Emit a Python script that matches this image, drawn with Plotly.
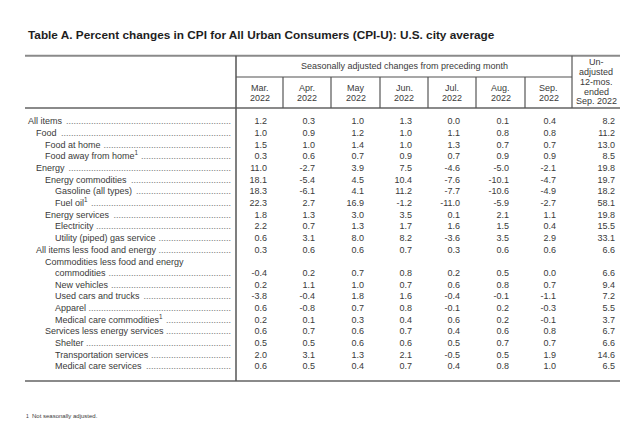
import plotly.graph_objects as go

# ---------------- data ----------------
row_labels = [
    "All items", "Food", "Food at home", "Food away from home<sup>1</sup>", "Energy",
    "Energy commodities", "Gasoline (all types)", "Fuel oil<sup>1</sup>", "Energy services",
    "Electricity", "Utility (piped) gas service", "All items less food and energy",
    "commodities", "New vehicles", "Used cars and trucks", "Apparel",
    "Medical care commodities<sup>1</sup>", "Services less energy services", "Shelter",
    "Transportation services", "Medical care services",
]
row_levels = [0, 1, 2, 2, 1, 2, 3, 3, 2, 3, 3, 1, 3, 3, 3, 3, 3, 2, 3, 3, 3]
group_header = "Commodities less food and energy"   # first line of the two-line row

months = ["Mar.", "Apr.", "May", "Jun.", "Jul.", "Aug.", "Sep."]
month_year = "2022"
last_col_header = ["Un-", "adjusted", "12-mos.", "ended", "Sep. 2022"]
span_header = "Seasonally adjusted changes from preceding month"

mar = [1.2, 1.0, 1.5, 0.3, 11.0, 18.1, 18.3, 22.3, 1.8, 2.2, 0.6, 0.3, -0.4, 0.2, -3.8, 0.6, 0.2, 0.6, 0.5, 2.0, 0.6]
apr = [0.3, 0.9, 1.0, 0.6, -2.7, -5.4, -6.1, 2.7, 1.3, 0.7, 3.1, 0.6, 0.2, 1.1, -0.4, -0.8, 0.1, 0.7, 0.5, 3.1, 0.5]
may = [1.0, 1.2, 1.4, 0.7, 3.9, 4.5, 4.1, 16.9, 3.0, 1.3, 8.0, 0.6, 0.7, 1.0, 1.8, 0.7, 0.3, 0.6, 0.6, 1.3, 0.4]
jun = [1.3, 1.0, 1.0, 0.9, 7.5, 10.4, 11.2, -1.2, 3.5, 1.7, 8.2, 0.7, 0.8, 0.7, 1.6, 0.8, 0.4, 0.7, 0.6, 2.1, 0.7]
jul = [0.0, 1.1, 1.3, 0.7, -4.6, -7.6, -7.7, -11.0, 0.1, 1.6, -3.6, 0.3, 0.2, 0.6, -0.4, -0.1, 0.6, 0.4, 0.5, -0.5, 0.4]
aug = [0.1, 0.8, 0.7, 0.9, -5.0, -10.1, -10.6, -5.9, 2.1, 1.5, 3.5, 0.6, 0.5, 0.8, -0.1, 0.2, 0.2, 0.6, 0.7, 0.5, 0.8]
sep = [0.4, 0.8, 0.7, 0.9, -2.1, -4.7, -4.9, -2.7, 1.1, 0.4, 2.9, 0.6, 0.0, 0.7, -1.1, -0.3, -0.1, 0.8, 0.7, 1.9, 1.0]
yoy = [8.2, 11.2, 13.0, 8.5, 19.8, 19.7, 18.2, 58.1, 19.8, 15.5, 33.1, 6.6, 6.6, 9.4, 7.2, 5.5, 3.7, 6.7, 6.6, 14.6, 6.5]

title = "Table A. Percent changes in CPI for All Urban Consumers (CPI-U): U.S. city average"
footnote = "Not seasonally adjusted."

# ---------------- layout geometry ----------------
FONT = "Liberation Sans, Arial, Helvetica, sans-serif"
TXT = "#3a3a3a"
LINE = "#8a8a8a"
W, H = 630, 437
FS = 9
left, right = 17, 612
vdiv = 228
col_edges = [228, 275, 323, 372, 420, 468, 517, 564, 612]
first_row_y, row_step = 114, 11.667
indent_x = {0: 20, 1: 28, 2: 37, 3: 47}
leader_end = 223
top_y, mid_y, head_bot, bot_y = 47.7, 69, 100, 373

# approximate Arial advance widths (1/1000 em) to place the leader dots after each label
ADV = dict(zip("abcdefghijklmnopqrstuvwxyz",
               [556, 556, 500, 556, 556, 278, 556, 556, 222, 222, 500, 222, 833,
                556, 556, 556, 556, 333, 500, 278, 556, 500, 722, 500, 500, 500]))
ADV.update({"A": 667, "C": 722, "E": 667, "F": 611, "G": 778, "M": 833, "N": 722,
            "S": 667, "T": 611, "U": 722, " ": 278, "(": 333, ")": 333, "1": 556})

def text_width(s, size):
    sup = 0.0
    if "<sup>" in s:
        s = s.replace("<sup>1</sup>", "")
        sup = 556 * 0.7
    return (sum(ADV.get(c, 556) for c in s) + sup) * size / 1000.0

def row_y(line):
    return first_row_y + line * row_step

row_lines = [i if i < 12 else i + 1 for i in range(len(row_labels))]
ys = [row_y(l) for l in row_lines]

fig = go.Figure()

# leader dots, starting just after each label
dot_x, dot_txt = [], []
for lab, lv in zip(row_labels, row_levels):
    start = indent_x[lv] + text_width(lab, FS) + 2
    n = max(int((leader_end - start) / 2.5), 0)
    dot_x.append(leader_end)
    dot_txt.append("." * n)
fig.add_trace(go.Scatter(x=dot_x, y=ys, mode="text", text=dot_txt,
                         textposition="middle left",
                         textfont=dict(family=FONT, size=FS, color="#707070"),
                         hoverinfo="skip"))

# row labels
fig.add_trace(go.Scatter(x=[indent_x[lv] for lv in row_levels], y=ys, mode="text",
                         text=row_labels, textposition="middle right",
                         textfont=dict(family=FONT, size=FS, color=TXT), hoverinfo="skip"))

# value columns
series = [mar, apr, may, jun, jul, aug, sep, yoy]
for ci, vals in enumerate(series):
    xr = col_edges[ci + 1] - (16 if ci < 7 else 5)
    fig.add_trace(go.Scatter(x=[xr] * len(vals), y=ys, mode="text",
                             text=[f"{v:.1f}" for v in vals],
                             textposition="middle left",
                             textfont=dict(family=FONT, size=FS, color=TXT),
                             hoverinfo="skip"))

ann = []
ann.append(dict(x=35, y=row_y(12), xref="x", yref="y", text=group_header, showarrow=False,
                xanchor="left", yanchor="middle", font=dict(family=FONT, size=FS, color=TXT)))

# title
ann.append(dict(x=18, y=27, xref="x", yref="y", text="<b>" + title + "</b>", showarrow=False,
                xanchor="left", yanchor="middle", font=dict(family=FONT, size=11.8, color="#1e1e1e")))
# span header
ann.append(dict(x=(col_edges[0] + col_edges[7]) / 2, y=58, xref="x", yref="y", text=span_header,
                showarrow=False, xanchor="center", yanchor="middle",
                font=dict(family=FONT, size=FS, color=TXT)))
# month headers
for i, m in enumerate(months):
    cx = (col_edges[i] + col_edges[i + 1]) / 2
    for txt, yy in ((m, 80), (month_year, 90)):
        ann.append(dict(x=cx, y=yy, xref="x", yref="y", text=txt, showarrow=False,
                        xanchor="center", yanchor="middle",
                        font=dict(family=FONT, size=FS, color=TXT)))
# last column header
cx = (col_edges[7] + col_edges[8]) / 2
for txt, yy in zip(last_col_header, [54, 64, 74, 83.5, 93]):
    ann.append(dict(x=cx, y=yy, xref="x", yref="y", text=txt, showarrow=False,
                    xanchor="center", yanchor="middle",
                    font=dict(family=FONT, size=FS, color=TXT)))
# footnote
ann.append(dict(x=16, y=408, xref="x", yref="y", text="1", showarrow=False,
                xanchor="left", yanchor="middle", font=dict(family=FONT, size=5, color=TXT)))
ann.append(dict(x=22, y=408, xref="x", yref="y", text=footnote, showarrow=False,
                xanchor="left", yanchor="middle", font=dict(family=FONT, size=6, color=TXT)))

# rules
shapes = []
def hline(y, x0, x1, w):
    shapes.append(dict(type="line", xref="x", yref="y", x0=x0, x1=x1, y0=y, y1=y,
                       line=dict(color=LINE, width=w), layer="below"))
def vline(x, y0, y1, w):
    shapes.append(dict(type="line", xref="x", yref="y", x0=x, x1=x, y0=y0, y1=y1,
                       line=dict(color="#555555", width=w), layer="below"))

hline(top_y, left, right, 2)
hline(head_bot, left, right, 2)
hline(bot_y, left, right, 2)
hline(mid_y, col_edges[0], col_edges[7], 1.5)
vline(vdiv, top_y, bot_y, 1.5)
for x in col_edges[1:7]:
    vline(x, mid_y, head_bot, 1.2)
vline(col_edges[7], top_y, head_bot, 1.2)

fig.update_layout(
    width=W, height=H, margin=dict(l=0, r=0, t=0, b=0),
    paper_bgcolor="white", plot_bgcolor="white", showlegend=False,
    xaxis=dict(range=[0, W], visible=False, fixedrange=True),
    yaxis=dict(range=[H, 0], visible=False, fixedrange=True),
    annotations=ann, shapes=shapes,
)

fig.write_html("out.html")
